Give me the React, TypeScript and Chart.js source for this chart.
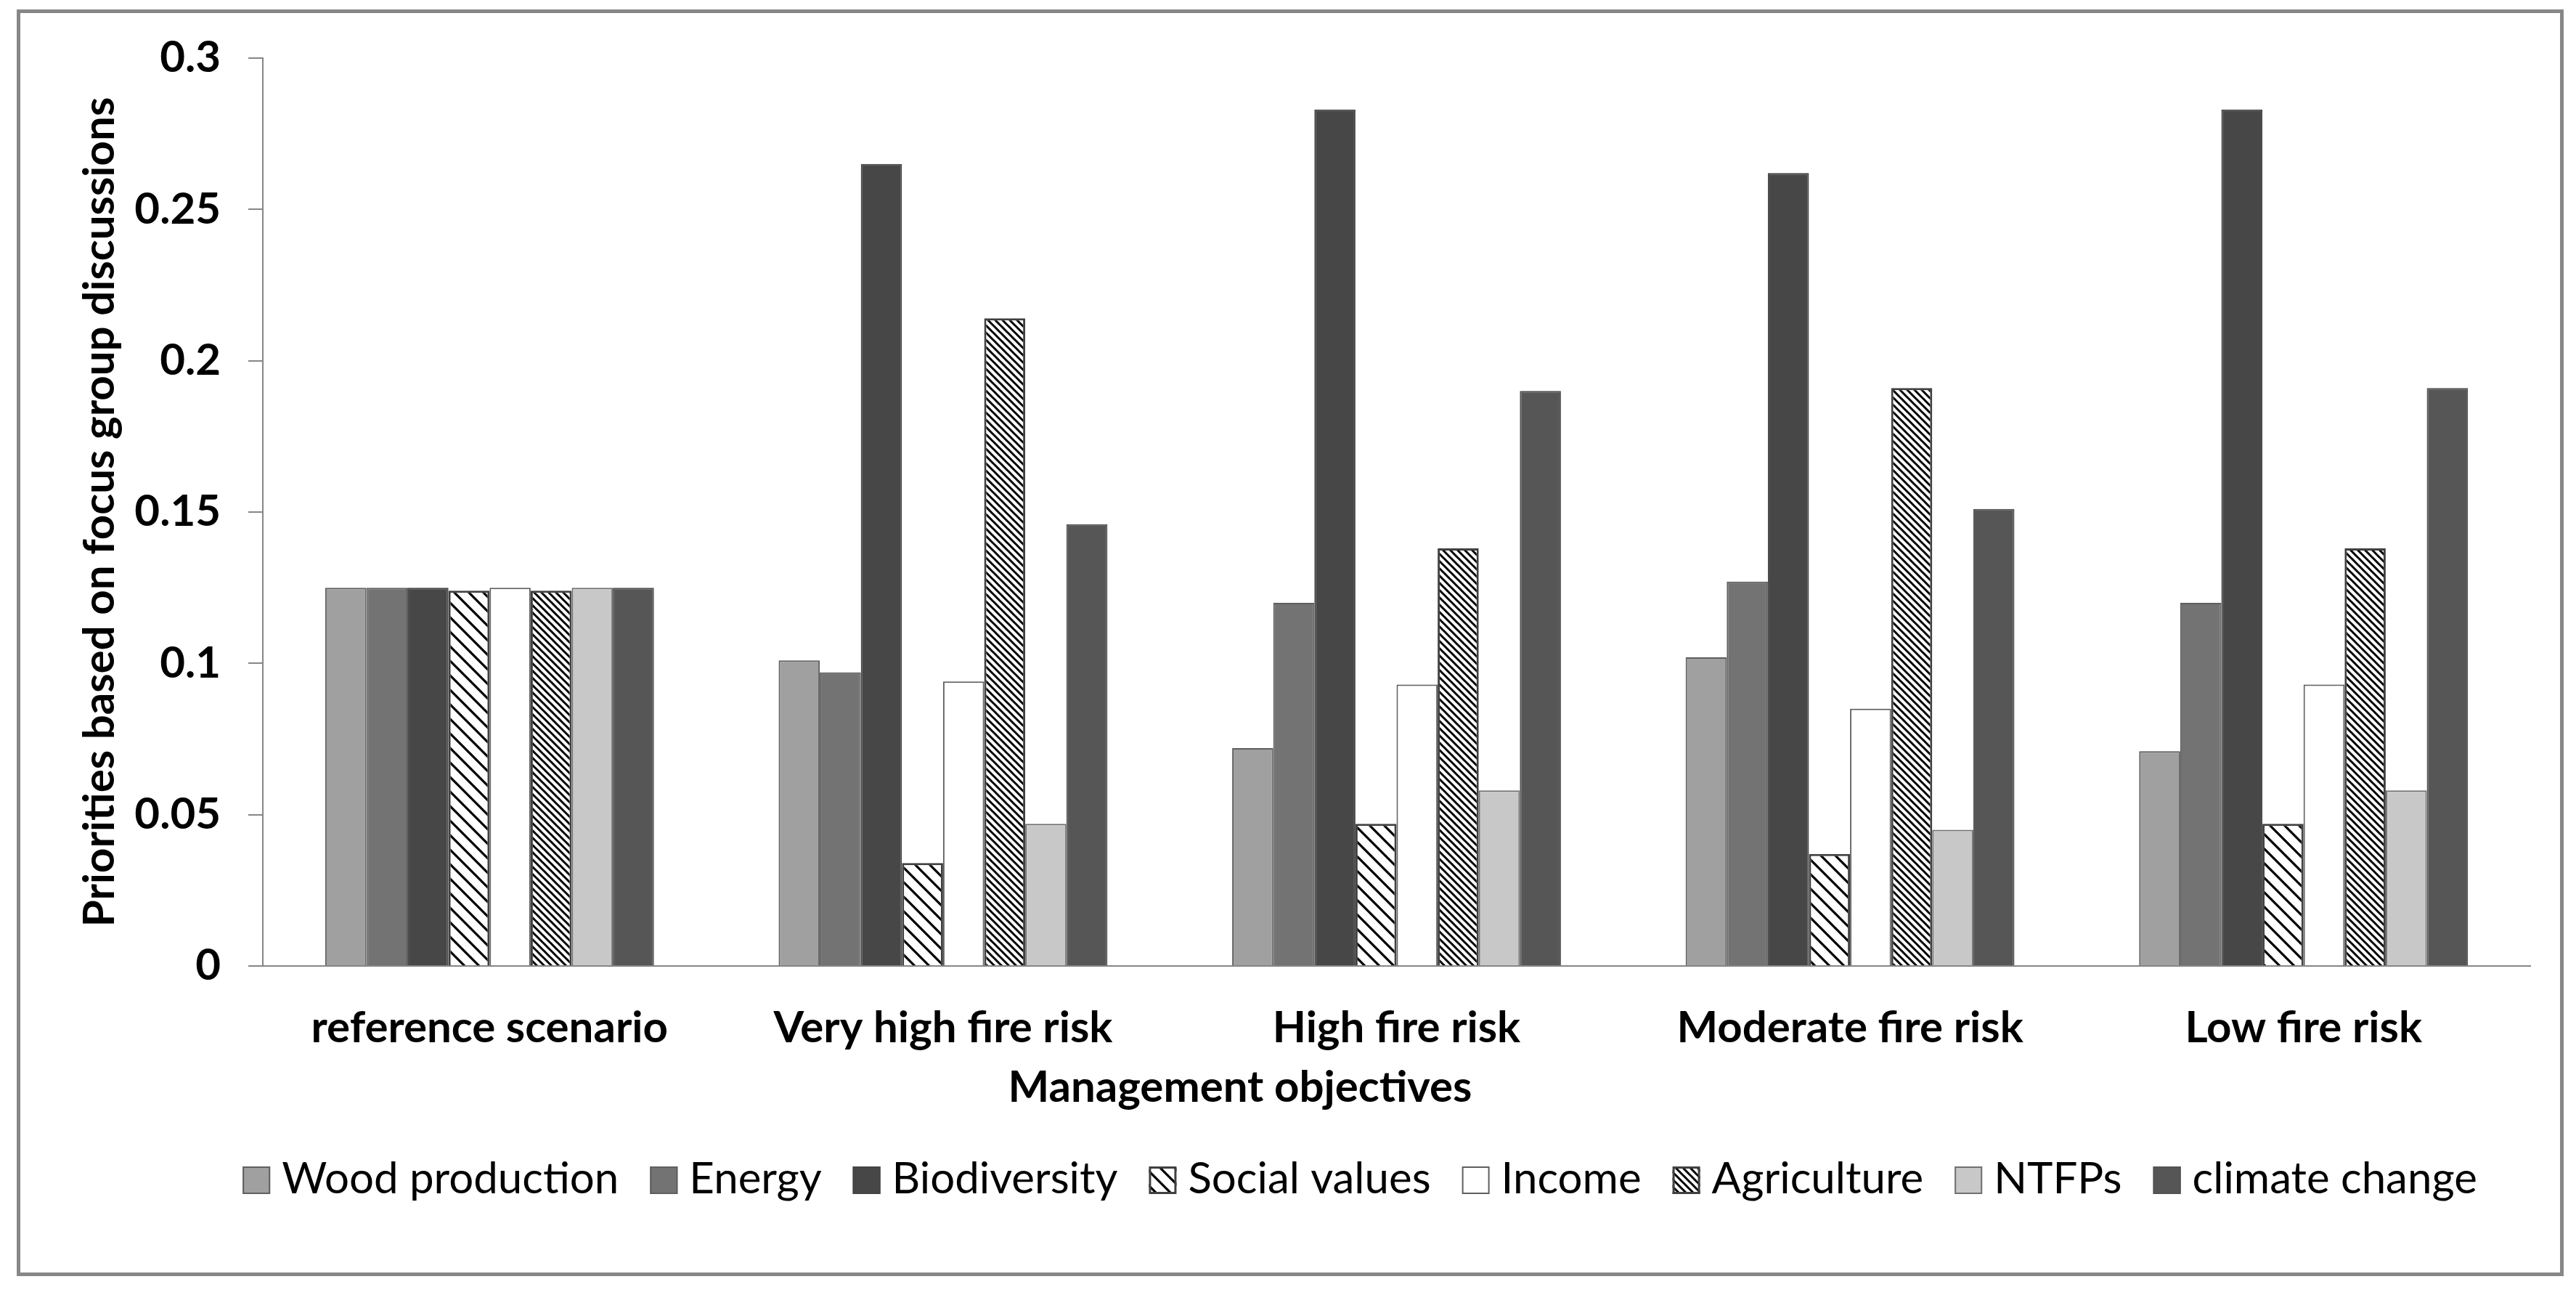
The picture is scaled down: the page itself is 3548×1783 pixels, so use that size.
import React, { useEffect, useRef } from 'react';
import { Chart, registerables } from 'chart.js';

Chart.register(...registerables);

const categories = ['reference scenario', 'Very high fire risk', 'High fire risk', 'Moderate fire risk', 'Low fire risk'];
const woodProduction = [0.125, 0.101, 0.072, 0.102, 0.071];
const energy = [0.125, 0.097, 0.120, 0.127, 0.120];
const biodiversity = [0.125, 0.265, 0.283, 0.262, 0.283];
const socialValues = [0.124, 0.034, 0.047, 0.037, 0.047];
const income = [0.125, 0.094, 0.093, 0.085, 0.093];
const agriculture = [0.124, 0.214, 0.138, 0.191, 0.138];
const ntfps = [0.125, 0.047, 0.058, 0.045, 0.058];
const climateChange = [0.125, 0.146, 0.190, 0.151, 0.191];
const yTickLabels = ['0', '0.05', '0.1', '0.15', '0.2', '0.25', '0.3'];
const xTitle = 'Management objectives';
const yTitle = 'Priorities based on focus group discussions';

const FAMILY = 'Lato';

function makeHatch(size: number, lineWidth: number): CanvasPattern {
  const c = document.createElement('canvas');
  c.width = size;
  c.height = size;
  const g = c.getContext('2d')!;
  g.fillStyle = '#ffffff';
  g.fillRect(0, 0, size, size);
  g.strokeStyle = '#000000';
  g.lineWidth = lineWidth;
  g.beginPath();
  for (const k of [-size, 0, size]) {
    g.moveTo(k - 1, -1);
    g.lineTo(k + size + 1, size + 1);
  }
  g.stroke();
  return g.createPattern(c, 'repeat')!;
}

export default function App() {
  const ref = useRef<HTMLCanvasElement>(null);

  useEffect(() => {
    const canvas = ref.current!;
    const socialPattern = makeHatch(20, 3.2);
    const agriPattern = makeHatch(10, 3.0);

    // Legend and x-axis title drawn in the space reserved below the x axis
    const bottomTexts = {
      id: 'bottomTexts',
      afterDraw(chart: any) {
        const ctx = chart.ctx as CanvasRenderingContext2D;
        ctx.save();
        // x-axis title
        ctx.font = `bold 60px ${FAMILY}`;
        ctx.fillStyle = '#000000';
        ctx.textAlign = 'center';
        ctx.textBaseline = 'alphabetic';
        ctx.fillText(xTitle, 1680, 1499);

        // legend
        ctx.font = `60px ${FAMILY}`;
        ctx.textAlign = 'left';
        const box = 38;
        const gapText = 16;
        const gapItem = 43;
        const items = chart.data.datasets.map((ds: any) => ({
          ds,
          text: ds.label as string,
          w: ctx.measureText(ds.label).width,
        }));
        const total =
          items.reduce((s: number, it: any) => s + box + gapText + it.w, 0) + gapItem * (items.length - 1);
        let x = 1845 - total / 2;
        const boxTop = 1588;
        for (const it of items) {
          ctx.fillStyle = it.ds.backgroundColor;
          ctx.fillRect(x, boxTop, box, box);
          const bw = it.ds.borderWidth || 2;
          ctx.lineWidth = bw;
          ctx.strokeStyle = it.ds.borderColor;
          ctx.strokeRect(x + bw / 2, boxTop + bw / 2, box - bw, box - bw);
          ctx.fillStyle = '#000000';
          ctx.fillText(it.text, x + box + gapText, 1625);
          x += box + gapText + it.w + gapItem;
        }
        ctx.restore();
      },
    };

    const boldFont = { family: FAMILY, size: 60, weight: 'bold' as const };

    const chart = new Chart(canvas, {
      type: 'bar',
      data: {
        labels: categories,
        datasets: [
          { label: 'Wood production', data: woodProduction, backgroundColor: '#a0a0a0', borderColor: '#5f5f5f', borderWidth: 2 },
          { label: 'Energy', data: energy, backgroundColor: '#737373', borderColor: '#5f5f5f', borderWidth: 2 },
          { label: 'Biodiversity', data: biodiversity, backgroundColor: '#474747', borderColor: '#444444', borderWidth: 2 },
          { label: 'Social values', data: socialValues, backgroundColor: socialPattern, borderColor: '#404040', borderWidth: 3 },
          { label: 'Income', data: income, backgroundColor: '#ffffff', borderColor: '#5f5f5f', borderWidth: 2 },
          { label: 'Agriculture', data: agriculture, backgroundColor: agriPattern, borderColor: '#404040', borderWidth: 3 },
          { label: 'NTFPs', data: ntfps, backgroundColor: '#c8c8c8', borderColor: '#707070', borderWidth: 2 },
          { label: 'climate change', data: climateChange, backgroundColor: '#565656', borderColor: '#525252', borderWidth: 2 },
        ],
      },
      options: {
        responsive: false,
        animation: false,
        devicePixelRatio: 1,
        layout: { padding: { top: 62, left: 0, right: 41, bottom: 217 } },
        datasets: { bar: { categoryPercentage: 0.725, barPercentage: 1.0 } },
        plugins: {
          legend: { display: false },
          tooltip: { enabled: false },
        },
        scales: {
          x: {
            grid: { display: false },
            border: { display: true, color: '#868686', width: 2 },
            ticks: { font: boldFont, color: '#000000', padding: 42, maxRotation: 0, autoSkip: false },
            title: { display: false },
            afterFit: (s: any) => {
              s.height = 205;
            },
          },
          y: {
            min: 0,
            max: 0.3,
            ticks: {
              stepSize: 0.05,
              callback: (_v: any, i: number) => yTickLabels[i],
              font: boldFont,
              color: '#000000',
              padding: 38,
            },
            grid: {
              display: true,
              drawOnChartArea: false,
              drawTicks: true,
              tickLength: 20,
              color: '#868686',
              lineWidth: 2,
            },
            border: { display: true, color: '#868686', width: 2 },
            title: {
              display: true,
              text: yTitle,
              font: boldFont,
              color: '#000000',
              padding: { top: 74, bottom: 0 },
            },
            afterFit: (s: any) => {
              s.width = 334;
              s.paddingTop = 0;
              s.paddingBottom = 0;
            },
          },
        },
      } as any,
      plugins: [bottomTexts],
    });

    return () => chart.destroy();
  }, []);

  return (
    <div
      style={{
        position: 'absolute',
        left: 23,
        top: 13,
        width: 3508,
        height: 1744,
        border: '5px solid #878787',
        boxSizing: 'border-box',
        background: '#ffffff',
      }}
    >
      <canvas ref={ref} width={3498} height={1734} style={{ display: 'block', width: 3498, height: 1734 }} />
    </div>
  );
}
